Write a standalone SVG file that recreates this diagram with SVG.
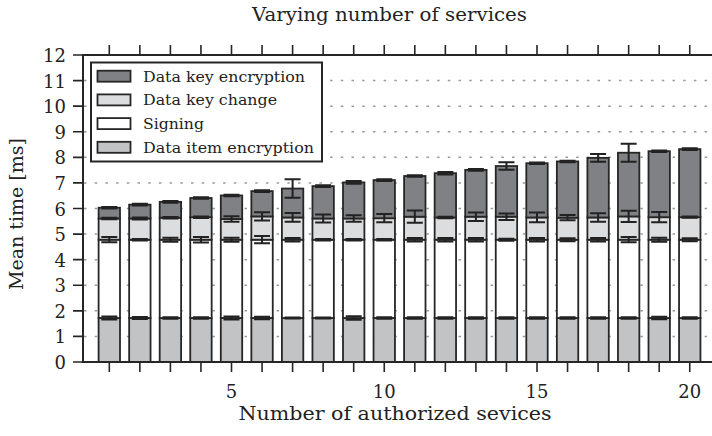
<svg xmlns="http://www.w3.org/2000/svg" width="712" height="436" viewBox="0 0 712 436">
  <style>
    text { font-family: "DejaVu Serif", "Liberation Serif", serif; fill: #222; }
    .title { font-size: 18px; text-anchor: middle; }
    .axlabel { font-size: 18.5px; text-anchor: middle; }
    .ytick { font-size: 18px; text-anchor: end; }
    .xtick { font-size: 18px; text-anchor: middle; }
    .legtext { font-size: 15px; }
    .grid { stroke: #9a9a9a; stroke-width: 1.5; stroke-dasharray: 2.5 8.2; fill: none; }
    .spine { stroke: #262626; stroke-width: 2; fill: none; }
    .tick { stroke: #262626; stroke-width: 1.6; fill: none; }
    .seg { stroke: #262626; stroke-width: 1.8; }
    .enc { fill: #808184; }
    .chg { fill: #dcddde; }
    .sig { fill: #ffffff; }
    .item { fill: #c2c3c5; }
    .err { stroke: #222; stroke-width: 2; fill: none; }
  </style>

  <!-- title -->
  <text class="title" x="389.5" y="21" textLength="275" lengthAdjust="spacingAndGlyphs">Varying number of services</text>

  <!-- horizontal grid lines -->
  <g id="grid">
    <path class="grid" d="M84,336.42H712 M84,310.83H712 M84,285.25H712 M84,259.67H712 M84,234.08H712 M84,208.5H712 M84,182.92H712 M84,157.33H712 M84,131.75H712 M84,106.17H712 M84,80.58H712"/>
  </g>

  <!-- stacked bars: item / signing / key change / key encryption, each with error bars -->
  <g id="bar-1">
    <rect class="seg item" x="98.6" y="318" width="21.4" height="44"/>
    <rect class="seg sig" x="98.6" y="239.7" width="21.4" height="78.3"/>
    <rect class="seg chg" x="98.6" y="218.48" width="21.4" height="21.22"/>
    <rect class="seg enc" x="98.6" y="207.73" width="21.4" height="10.75"/>
    <path class="err" d="M101.3,316.5h16m-8,0v3m-8,0h16 M101.3,237.1h16m-8,0v5.2m-8,0h16 M101.3,217.68h16m-8,0v1.6m-8,0h16 M101.3,206.93h16m-8,0v1.6m-8,0h16"/>
  </g>
  <g id="bar-2">
    <rect class="seg item" x="129.15" y="318" width="21.4" height="44"/>
    <rect class="seg sig" x="129.15" y="239.7" width="21.4" height="78.3"/>
    <rect class="seg chg" x="129.15" y="218.48" width="21.4" height="21.22"/>
    <rect class="seg enc" x="129.15" y="204.66" width="21.4" height="13.82"/>
    <path class="err" d="M131.85,317h16m-8,0v2m-8,0h16 M131.85,238.9h16m-8,0v1.6m-8,0h16 M131.85,217.48h16m-8,0v2m-8,0h16 M131.85,203.86h16m-8,0v1.6m-8,0h16"/>
  </g>
  <g id="bar-3">
    <rect class="seg item" x="159.7" y="318" width="21.4" height="44"/>
    <rect class="seg sig" x="159.7" y="239.7" width="21.4" height="78.3"/>
    <rect class="seg chg" x="159.7" y="217.71" width="21.4" height="21.99"/>
    <rect class="seg enc" x="159.7" y="201.85" width="21.4" height="15.86"/>
    <path class="err" d="M162.4,317.2h16m-8,0v1.6m-8,0h16 M162.4,237.7h16m-8,0v4m-8,0h16 M162.4,216.91h16m-8,0v1.6m-8,0h16 M162.4,201.05h16m-8,0v1.6m-8,0h16"/>
  </g>
  <g id="bar-4">
    <rect class="seg item" x="190.25" y="318" width="21.4" height="44"/>
    <rect class="seg sig" x="190.25" y="239.7" width="21.4" height="78.3"/>
    <rect class="seg chg" x="190.25" y="217.2" width="21.4" height="22.5"/>
    <rect class="seg enc" x="190.25" y="198.01" width="21.4" height="19.19"/>
    <path class="err" d="M192.95,317.2h16m-8,0v1.6m-8,0h16 M192.95,236.9h16m-8,0v5.6m-8,0h16 M192.95,216.4h16m-8,0v1.6m-8,0h16 M192.95,197.21h16m-8,0v1.6m-8,0h16"/>
  </g>
  <g id="bar-5">
    <rect class="seg item" x="220.8" y="318" width="21.4" height="44"/>
    <rect class="seg sig" x="220.8" y="239.7" width="21.4" height="78.3"/>
    <rect class="seg chg" x="220.8" y="218.99" width="21.4" height="20.71"/>
    <rect class="seg enc" x="220.8" y="195.45" width="21.4" height="23.54"/>
    <path class="err" d="M223.5,316.5h16m-8,0v3m-8,0h16 M223.5,237.7h16m-8,0v4m-8,0h16 M223.5,216.19h16m-8,0v5.6m-8,0h16 M223.5,194.65h16m-8,0v1.6m-8,0h16"/>
  </g>
  <g id="bar-6">
    <rect class="seg item" x="251.35" y="318" width="21.4" height="44"/>
    <rect class="seg sig" x="251.35" y="239.7" width="21.4" height="78.3"/>
    <rect class="seg chg" x="251.35" y="216.43" width="21.4" height="23.27"/>
    <rect class="seg enc" x="251.35" y="191.11" width="21.4" height="25.32"/>
    <path class="err" d="M254.05,316.7h16m-8,0v2.6m-8,0h16 M254.05,236.1h16m-8,0v7.2m-8,0h16 M254.05,212.33h16m-8,0v8.2m-8,0h16 M254.05,190.31h16m-8,0v1.6m-8,0h16"/>
  </g>
  <g id="bar-7">
    <rect class="seg item" x="281.9" y="318" width="21.4" height="44"/>
    <rect class="seg sig" x="281.9" y="239.7" width="21.4" height="78.3"/>
    <rect class="seg chg" x="281.9" y="217.46" width="21.4" height="22.24"/>
    <rect class="seg enc" x="281.9" y="188.55" width="21.4" height="28.91"/>
    <path class="err" d="M284.6,317.4h16m-8,0v1.2m-8,0h16 M284.6,237.9h16m-8,0v3.6m-8,0h16 M284.6,213.06h16m-8,0v8.8m-8,0h16 M284.6,179.35h16m-8,0v18.4m-8,0h16"/>
  </g>
  <g id="bar-8">
    <rect class="seg item" x="312.45" y="318" width="21.4" height="44"/>
    <rect class="seg sig" x="312.45" y="239.7" width="21.4" height="78.3"/>
    <rect class="seg chg" x="312.45" y="218.48" width="21.4" height="21.22"/>
    <rect class="seg enc" x="312.45" y="186.12" width="21.4" height="32.36"/>
    <path class="err" d="M315.15,317.4h16m-8,0v1.2m-8,0h16 M315.15,238.9h16m-8,0v1.6m-8,0h16 M315.15,214.38h16m-8,0v8.2m-8,0h16 M315.15,185.32h16m-8,0v1.6m-8,0h16"/>
  </g>
  <g id="bar-9">
    <rect class="seg item" x="343" y="318" width="21.4" height="44"/>
    <rect class="seg sig" x="343" y="239.7" width="21.4" height="78.3"/>
    <rect class="seg chg" x="343" y="218.48" width="21.4" height="21.22"/>
    <rect class="seg enc" x="343" y="182.41" width="21.4" height="36.07"/>
    <path class="err" d="M345.7,316.2h16m-8,0v3.6m-8,0h16 M345.7,238.9h16m-8,0v1.6m-8,0h16 M345.7,215.18h16m-8,0v6.6m-8,0h16 M345.7,181.11h16m-8,0v2.6m-8,0h16"/>
  </g>
  <g id="bar-10">
    <rect class="seg item" x="373.55" y="318" width="21.4" height="44"/>
    <rect class="seg sig" x="373.55" y="239.7" width="21.4" height="78.3"/>
    <rect class="seg chg" x="373.55" y="218.22" width="21.4" height="21.48"/>
    <rect class="seg enc" x="373.55" y="180.1" width="21.4" height="38.12"/>
    <path class="err" d="M376.25,317.2h16m-8,0v1.6m-8,0h16 M376.25,238.9h16m-8,0v1.6m-8,0h16 M376.25,214.12h16m-8,0v8.2m-8,0h16 M376.25,179.3h16m-8,0v1.6m-8,0h16"/>
  </g>
  <g id="bar-11">
    <rect class="seg item" x="404.1" y="318" width="21.4" height="44"/>
    <rect class="seg sig" x="404.1" y="239.7" width="21.4" height="78.3"/>
    <rect class="seg chg" x="404.1" y="216.69" width="21.4" height="23.01"/>
    <rect class="seg enc" x="404.1" y="176.01" width="21.4" height="40.68"/>
    <path class="err" d="M406.8,317.2h16m-8,0v1.6m-8,0h16 M406.8,237.9h16m-8,0v3.6m-8,0h16 M406.8,210.59h16m-8,0v12.2m-8,0h16 M406.8,175.21h16m-8,0v1.6m-8,0h16"/>
  </g>
  <g id="bar-12">
    <rect class="seg item" x="434.65" y="318" width="21.4" height="44"/>
    <rect class="seg sig" x="434.65" y="239.7" width="21.4" height="78.3"/>
    <rect class="seg chg" x="434.65" y="217.46" width="21.4" height="22.24"/>
    <rect class="seg enc" x="434.65" y="173.2" width="21.4" height="44.26"/>
    <path class="err" d="M437.35,317.2h16m-8,0v1.6m-8,0h16 M437.35,237.9h16m-8,0v3.6m-8,0h16 M437.35,216.66h16m-8,0v1.6m-8,0h16 M437.35,171.9h16m-8,0v2.6m-8,0h16"/>
  </g>
  <g id="bar-13">
    <rect class="seg item" x="465.2" y="318" width="21.4" height="44"/>
    <rect class="seg sig" x="465.2" y="239.7" width="21.4" height="78.3"/>
    <rect class="seg chg" x="465.2" y="216.69" width="21.4" height="23.01"/>
    <rect class="seg enc" x="465.2" y="169.87" width="21.4" height="46.82"/>
    <path class="err" d="M467.9,317.2h16m-8,0v1.6m-8,0h16 M467.9,237.9h16m-8,0v3.6m-8,0h16 M467.9,212.39h16m-8,0v8.6m-8,0h16 M467.9,169.07h16m-8,0v1.6m-8,0h16"/>
  </g>
  <g id="bar-14">
    <rect class="seg item" x="495.75" y="318" width="21.4" height="44"/>
    <rect class="seg sig" x="495.75" y="239.7" width="21.4" height="78.3"/>
    <rect class="seg chg" x="495.75" y="216.69" width="21.4" height="23.01"/>
    <rect class="seg enc" x="495.75" y="166.03" width="21.4" height="50.66"/>
    <path class="err" d="M498.45,317.2h16m-8,0v1.6m-8,0h16 M498.45,238.7h16m-8,0v2m-8,0h16 M498.45,213.39h16m-8,0v6.6m-8,0h16 M498.45,162.23h16m-8,0v7.6m-8,0h16"/>
  </g>
  <g id="bar-15">
    <rect class="seg item" x="526.3" y="318" width="21.4" height="44"/>
    <rect class="seg sig" x="526.3" y="239.7" width="21.4" height="78.3"/>
    <rect class="seg chg" x="526.3" y="217.46" width="21.4" height="22.24"/>
    <rect class="seg enc" x="526.3" y="163.22" width="21.4" height="54.24"/>
    <path class="err" d="M529,317.2h16m-8,0v1.6m-8,0h16 M529,237.9h16m-8,0v3.6m-8,0h16 M529,212.56h16m-8,0v9.8m-8,0h16 M529,162.42h16m-8,0v1.6m-8,0h16"/>
  </g>
  <g id="bar-16">
    <rect class="seg item" x="556.85" y="318" width="21.4" height="44"/>
    <rect class="seg sig" x="556.85" y="239.7" width="21.4" height="78.3"/>
    <rect class="seg chg" x="556.85" y="217.71" width="21.4" height="21.99"/>
    <rect class="seg enc" x="556.85" y="161.43" width="21.4" height="56.28"/>
    <path class="err" d="M559.55,317.2h16m-8,0v1.6m-8,0h16 M559.55,238.2h16m-8,0v3m-8,0h16 M559.55,215.11h16m-8,0v5.2m-8,0h16 M559.55,160.63h16m-8,0v1.6m-8,0h16"/>
  </g>
  <g id="bar-17">
    <rect class="seg item" x="587.4" y="318" width="21.4" height="44"/>
    <rect class="seg sig" x="587.4" y="239.7" width="21.4" height="78.3"/>
    <rect class="seg chg" x="587.4" y="217.46" width="21.4" height="22.24"/>
    <rect class="seg enc" x="587.4" y="157.85" width="21.4" height="59.61"/>
    <path class="err" d="M590.1,317.2h16m-8,0v1.6m-8,0h16 M590.1,237.9h16m-8,0v3.6m-8,0h16 M590.1,213.16h16m-8,0v8.6m-8,0h16 M590.1,154.05h16m-8,0v7.6m-8,0h16"/>
  </g>
  <g id="bar-18">
    <rect class="seg item" x="617.95" y="318" width="21.4" height="44"/>
    <rect class="seg sig" x="617.95" y="239.7" width="21.4" height="78.3"/>
    <rect class="seg chg" x="617.95" y="216.43" width="21.4" height="23.27"/>
    <rect class="seg enc" x="617.95" y="152.73" width="21.4" height="63.7"/>
    <path class="err" d="M620.65,317.2h16m-8,0v1.6m-8,0h16 M620.65,237.1h16m-8,0v5.2m-8,0h16 M620.65,210.83h16m-8,0v11.2m-8,0h16 M620.65,143.73h16m-8,0v18m-8,0h16"/>
  </g>
  <g id="bar-19">
    <rect class="seg item" x="648.5" y="318" width="21.4" height="44"/>
    <rect class="seg sig" x="648.5" y="239.7" width="21.4" height="78.3"/>
    <rect class="seg chg" x="648.5" y="217.2" width="21.4" height="22.5"/>
    <rect class="seg enc" x="648.5" y="151.2" width="21.4" height="66"/>
    <path class="err" d="M651.2,316.8h16m-8,0v2.4m-8,0h16 M651.2,237.7h16m-8,0v4m-8,0h16 M651.2,212.1h16m-8,0v10.2m-8,0h16 M651.2,150.4h16m-8,0v1.6m-8,0h16"/>
  </g>
  <g id="bar-20">
    <rect class="seg item" x="679.05" y="318" width="21.4" height="44"/>
    <rect class="seg sig" x="679.05" y="239.7" width="21.4" height="78.3"/>
    <rect class="seg chg" x="679.05" y="217.2" width="21.4" height="22.5"/>
    <rect class="seg enc" x="679.05" y="149.15" width="21.4" height="68.05"/>
    <path class="err" d="M681.75,317.2h16m-8,0v1.6m-8,0h16 M681.75,238.2h16m-8,0v3m-8,0h16 M681.75,216.6h16m-8,0v1.2m-8,0h16 M681.75,148.35h16m-8,0v1.6m-8,0h16"/>
  </g>

  <!-- axes frame and ticks -->
  <g id="axes">
    <path class="spine" d="M712,55H83V362H712"/>
    <path class="tick" d="M73,362H83 M73,336.42H83 M73,310.83H83 M73,285.25H83 M73,259.67H83 M73,234.08H83 M73,208.5H83 M73,182.92H83 M73,157.33H83 M73,131.75H83 M73,106.17H83 M73,80.58H83 M73,55H83"/>
    <path class="tick" d="M109.3,362v10 M139.85,362v10 M170.4,362v10 M200.95,362v10 M231.5,362v10 M262.05,362v10 M292.6,362v10 M323.15,362v10 M353.7,362v10 M384.25,362v10 M414.8,362v10 M445.35,362v10 M475.9,362v10 M506.45,362v10 M537,362v10 M567.55,362v10 M598.1,362v10 M628.65,362v10 M659.2,362v10 M689.75,362v10"/>
    <path class="tick" d="M109.3,55v-10 M139.85,55v-10 M170.4,55v-10 M200.95,55v-10 M231.5,55v-10 M262.05,55v-10 M292.6,55v-10 M323.15,55v-10 M353.7,55v-10 M384.25,55v-10 M414.8,55v-10 M445.35,55v-10 M475.9,55v-10 M506.45,55v-10 M537,55v-10 M567.55,55v-10 M598.1,55v-10 M628.65,55v-10 M659.2,55v-10 M689.75,55v-10"/>
    <text class="ytick" x="66" y="369">0</text>
    <text class="ytick" x="66" y="343.4">1</text>
    <text class="ytick" x="66" y="317.8">2</text>
    <text class="ytick" x="66" y="292.2">3</text>
    <text class="ytick" x="66" y="266.7">4</text>
    <text class="ytick" x="66" y="241.1">5</text>
    <text class="ytick" x="66" y="215.5">6</text>
    <text class="ytick" x="66" y="189.9">7</text>
    <text class="ytick" x="66" y="164.3">8</text>
    <text class="ytick" x="66" y="138.7">9</text>
    <text class="ytick" x="66" y="113.2">10</text>
    <text class="ytick" x="66" y="87.6">11</text>
    <text class="ytick" x="66" y="62">12</text>
    <text class="xtick" x="231.5" y="398">5</text>
    <text class="xtick" x="384.25" y="398">10</text>
    <text class="xtick" x="537" y="398">15</text>
    <text class="xtick" x="689.75" y="398">20</text>
    <text class="axlabel" x="395" y="419.5" textLength="313" lengthAdjust="spacingAndGlyphs">Number of authorized sevices</text>
    <text class="axlabel" transform="translate(23,214) rotate(-90)" textLength="152" lengthAdjust="spacingAndGlyphs">Mean time [ms]</text>
  </g>

  <!-- legend -->
  <g id="legend">
    <rect x="91" y="62.5" width="231" height="99" fill="#fff" stroke="#262626" stroke-width="2"/>
    <rect class="seg enc" x="97.5" y="70.7" width="33" height="11"/>
    <rect class="seg chg" x="97.5" y="94.4" width="33" height="11"/>
    <rect class="seg sig" x="97.5" y="118.1" width="33" height="11"/>
    <rect class="seg item" x="97.5" y="141.8" width="33" height="11"/>
    <text class="legtext" x="143" y="81.7" textLength="162" lengthAdjust="spacingAndGlyphs">Data key encryption</text>
    <text class="legtext" x="143" y="105.4" textLength="134" lengthAdjust="spacingAndGlyphs">Data key change</text>
    <text class="legtext" x="143" y="129.1" textLength="61" lengthAdjust="spacingAndGlyphs">Signing</text>
    <text class="legtext" x="143" y="152.8" textLength="171" lengthAdjust="spacingAndGlyphs">Data item encryption</text>
  </g>
</svg>
